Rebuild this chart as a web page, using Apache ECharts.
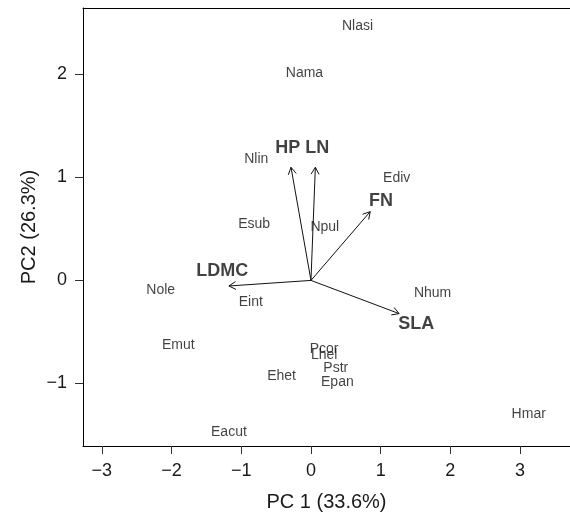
<!DOCTYPE html>
<html><head><meta charset="utf-8">
<script src="https://cdn.jsdelivr.net/npm/echarts@6/dist/echarts.min.js"></script>
<style>html,body{margin:0;padding:0;background:#fff}#c{width:570px;height:517px}</style>
</head><body><div id="c"></div>
<script>
const speciesNames = ['Nlasi','Nama','Nlin','Ediv','Esub','Npul','Nole','Eint','Nhum','Emut','Pcor','Lhel','Pstr','Ehet','Epan','Hmar','Eacut'];
const speciesX = [0.668,-0.093,-0.784,1.23,-0.815,0.199,-2.155,-0.863,1.745,-1.904,0.189,0.189,0.356,-0.422,0.379,3.124,-1.177];
const speciesY = [2.483,2.031,1.193,1.015,0.565,0.532,-0.074,-0.187,-0.103,-0.612,-0.644,-0.702,-0.828,-0.912,-0.967,-1.273,-1.451];
const traitNames = ['HP','LN','FN','LDMC','SLA'];
const arrowX = [-0.286,0.063,0.85,-1.177,1.265];
const arrowY = [1.097,1.097,0.667,-0.054,-0.322];
const traitLabelX = [-0.333,0.092,1.004,-1.273,1.512];
const traitLabelY = [1.306,1.306,0.790,0.113,-0.402];
const xTicks = [-3,-2,-1,0,1,2,3];
const yTicks = [-1,0,1,2];
const xTitle = 'PC 1 (33.6%)';
const yTitle = 'PC2 (26.3%)';

const FONT = "'Liberation Sans', Arial, sans-serif";
const fmt = v => (v < 0 ? '\u2212' + Math.abs(v) : String(v));
const XMIN = -3.27, XMAX = 3.716, YMIN = -1.606, YMAX = 2.642;

const chart = echarts.init(document.getElementById('c'), null, {renderer: 'canvas'});
chart.setOption({
  animation: false,
  backgroundColor: '#fff',
  textStyle: {fontFamily: FONT},
  grid: {left: 83, top: 8, right: -2, bottom: 69, show: false},
  xAxis: [{
    type: 'value', min: XMIN, max: XMAX, position: 'bottom',
    splitLine: {show: false},
    axisLine: {show: true, onZero: false, lineStyle: {color: '#000', width: 1}},
    axisTick: {show: true, length: 8, customValues: xTicks, lineStyle: {color: '#333'}},
    axisLabel: {customValues: xTicks, formatter: fmt, fontSize: 18, color: '#1a1a1a', margin: 16, fontFamily: FONT},
    name: xTitle, nameLocation: 'middle', nameGap: 46,
    nameTextStyle: {fontSize: 20, color: '#1a1a1a', fontFamily: FONT}
  }, {
    type: 'value', min: XMIN, max: XMAX, position: 'top',
    splitLine: {show: false},
    axisLine: {show: true, onZero: false, lineStyle: {color: '#000', width: 1}},
    axisTick: {show: false}, axisLabel: {show: false}
  }],
  yAxis: {
    type: 'value', min: YMIN, max: YMAX, position: 'left',
    splitLine: {show: false},
    axisLine: {show: true, onZero: false, lineStyle: {color: '#000', width: 1}},
    axisTick: {show: true, length: 8, customValues: yTicks, lineStyle: {color: '#333'}},
    axisLabel: {customValues: yTicks, formatter: fmt, fontSize: 18, color: '#1a1a1a', margin: 16, fontFamily: FONT},
    name: yTitle, nameLocation: 'middle', nameGap: 44, nameRotate: 90, nameMoveOverlap: false,
    nameTextStyle: {fontSize: 20, color: '#1a1a1a', fontFamily: FONT}
  },
  series: [
    {
      type: 'custom', silent: true,
      data: arrowX.map((x, i) => [x, arrowY[i]]),
      renderItem: function (params, api) {
        const p0 = api.coord([0, 0]);
        const p1 = api.coord([api.value(0), api.value(1)]);
        const ang = Math.atan2(p1[1] - p0[1], p1[0] - p0[0]);
        const L = 8, a = Math.PI / 6;
        const h1 = [p1[0] - L * Math.cos(ang - a), p1[1] - L * Math.sin(ang - a)];
        const h2 = [p1[0] - L * Math.cos(ang + a), p1[1] - L * Math.sin(ang + a)];
        return {
          type: 'group',
          children: [
            {type: 'line', shape: {x1: p0[0], y1: p0[1], x2: p1[0], y2: p1[1]}, style: {stroke: '#111', lineWidth: 1}},
            {type: 'polyline', shape: {points: [h1, p1, h2]}, style: {stroke: '#111', fill: null, lineWidth: 1}}
          ]
        };
      }
    },
    {
      type: 'scatter', silent: true, symbolSize: 1,
      itemStyle: {color: 'rgba(0,0,0,0)'},
      data: speciesNames.map((n, i) => ({name: n, value: [speciesX[i], speciesY[i]]})),
      label: {show: true, position: 'inside', offset: [0, 2], formatter: '{b}', fontSize: 14, color: '#111', fontFamily: FONT}
    },
    {
      type: 'scatter', silent: true, symbolSize: 1,
      itemStyle: {color: 'rgba(0,0,0,0)'},
      data: traitNames.map((n, i) => ({name: n, value: [traitLabelX[i], traitLabelY[i]]})),
      label: {show: true, position: 'inside', offset: [0, 2], formatter: '{b}', fontSize: 18, fontWeight: 'bold', color: '#111', fontFamily: FONT}
    }
  ]
});
</script>
</body></html>
